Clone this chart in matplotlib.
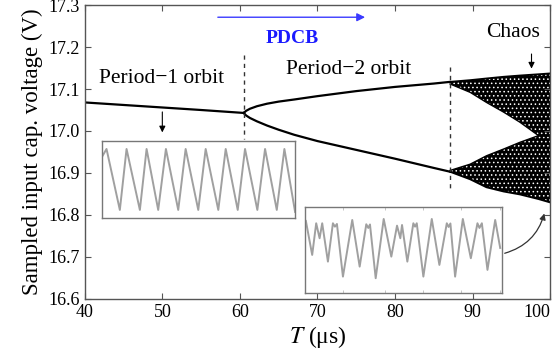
import matplotlib
matplotlib.use("Agg")
from matplotlib import pyplot as plt
import numpy as np

plt.rcParams['font.family'] = ['Liberation Serif', 'DejaVu Serif']
plt.rcParams['mathtext.fontset'] = 'stix'
plt.rcParams['hatch.linewidth'] = 0.6

# period-1 branch
t_p1 = [40, 45, 50, 55, 60.5]
v_p1 = [17.068, 17.062, 17.056, 17.050, 17.043]

# period-2 branches
t_p2 = [60.5, 60.8, 61.3, 62.2, 63.5, 65, 67, 70, 75, 80, 85, 87.1]
v_p2_up = [17.043, 17.048, 17.053, 17.059, 17.065, 17.070, 17.075, 17.083, 17.095,
           17.105, 17.113, 17.117]
v_p2_lo = [17.043, 17.037, 17.031, 17.023, 17.013, 17.003, 16.991, 16.976, 16.955,
           16.934, 16.912, 16.903]

# chaotic bands (envelopes)
t_ch = [87.1, 89.7, 91.8, 94.0, 96.1, 98.5, 100]
up_top = [17.117, 17.121, 17.125, 17.129, 17.132, 17.135, 17.137]
up_bot = [17.112, 17.092, 17.068, 17.045, 17.021, 16.989, 16.989]
lo_top = [16.906, 16.921, 16.941, 16.957, 16.973, 16.989, 16.989]
lo_bot = [16.903, 16.885, 16.866, 16.856, 16.849, 16.838, 16.830]

# inset 1: period-1 waveform (peak / trough vertices)
w1_x = [0.6, 5, 18.3, 25, 38.3, 45, 56.6, 64.3, 76.6, 84, 96.6, 104, 116.6, 124,
        136, 143.3, 155.6, 163.3, 175, 182.6, 193.3]
w1_y = [61.6, 69.3, 8.3, 69.3, 8.3, 69.3, 8.3, 69.3, 8.3, 69.3, 8.3, 69.3, 8.3, 69.3,
        8.3, 69.3, 8.3, 69.3, 8.3, 69.3, 6.3]

# inset 2: chaotic waveform vertices
w2_x = [1, 7.3, 11.3, 14.7, 17.3, 23, 28, 30, 32, 38, 47.3, 54.7, 61.3, 63.3, 65,
        70.7, 78.7, 86.3, 92, 95.3, 97, 102.3, 108.3, 110, 111.7, 118.3, 126.7,
        134.3, 141.7, 143.5, 145.3, 150, 157.7, 165.7, 172.3, 174.3, 176.7, 182.3,
        190, 195]
w2_y = [72, 38, 69.7, 54.7, 69.7, 31.3, 69.7, 66.3, 69, 16.3, 73, 26.3, 68.7, 65,
        68.5, 14.7, 74, 36.3, 67.3, 54.7, 68, 31.3, 69.7, 66.3, 69.7, 16.3, 74,
        28, 69.7, 66, 69.5, 16.3, 74, 34.7, 69.7, 65, 69.7, 23, 73, 45]

fig = plt.figure(figsize=(5.54, 3.61), dpi=100)
ax = fig.add_axes([0.153, 0.172, 0.840, 0.814])

ax.plot(t_p1, v_p1, color='black', lw=1.6)
ax.plot(t_p2, v_p2_up, color='black', lw=1.6)
ax.plot(t_p2, v_p2_lo, color='black', lw=1.6)

ax.fill_between(t_ch, up_bot, up_top, facecolor='black', edgecolor='white',
                hatch='....', linewidth=0)
ax.fill_between(t_ch, lo_bot, lo_top, facecolor='black', edgecolor='white',
                hatch='....', linewidth=0)
ax.plot(t_ch, up_top, color='black', lw=1.4)
ax.plot(t_ch, up_bot, color='black', lw=1.0)
ax.plot(t_ch, lo_top, color='black', lw=1.0)
ax.plot(t_ch, lo_bot, color='black', lw=1.4)

# bifurcation markers
ax.plot([60.5, 60.5], [17.18, 16.98], color='#333333', lw=1, ls=(0, (3, 3)))
ax.plot([87.1, 87.1], [17.152, 16.855], color='#333333', lw=1, ls=(0, (3, 3)))

ax.set_xlim(40, 100)
ax.set_ylim(16.6, 17.3)
ax.set_xticks([40, 50, 60, 70, 80, 90, 100])
ax.set_yticks([16.6, 16.7, 16.8, 16.9, 17.0, 17.1, 17.2, 17.3])
ax.set_yticklabels(['16.6', '16.7', '16.8', '16.9', '17.0', '17.1', '17.2', '17.3'])
ax.tick_params(direction='in', top=True, right=True, length=4, width=0.8,
               labelsize=13, colors='#555555', labelcolor='black')
ax.get_xticklabels()[-1].set_horizontalalignment('right')
for s in ax.spines.values():
    s.set_color('#555555')
    s.set_linewidth(1.0)

ax.set_xlabel('$T$ (μs)', fontsize=17, labelpad=2)
ax.set_ylabel('Sampled input cap. voltage (V)', fontsize=16.5, labelpad=4)

# annotations
ax.text(49.9, 17.124, 'Period\u22121 orbit', fontsize=15.5, ha='center', va='center')
ax.text(74.0, 17.146, 'Period\u22122 orbit', fontsize=15.5, ha='center', va='center')
ax.text(95.2, 17.235, 'Chaos', fontsize=15.5, ha='center', va='center')
ax.text(66.7, 17.22, 'PDCB', fontsize=14, fontweight='bold', color='#1a1aff',
        ha='center', va='center')
ax.annotate('', xy=(76.5, 17.271), xytext=(56.8, 17.271),
            arrowprops=dict(arrowstyle='-|>', color='#3a3aff', lw=1.0,
                            mutation_scale=12))
ax.annotate('', xy=(50, 16.99), xytext=(50, 17.052),
            arrowprops=dict(arrowstyle='-|>', color='black', lw=0.8,
                            mutation_scale=9))
ax.annotate('', xy=(97.6, 17.142), xytext=(97.6, 17.19),
            arrowprops=dict(arrowstyle='-|>', color='black', lw=0.8,
                            mutation_scale=9))
ax.annotate('', xy=(99.35, 16.81), xytext=(93.8, 16.707),
            arrowprops=dict(arrowstyle='-|>', color='#333333', lw=0.9,
                            mutation_scale=9, connectionstyle='arc3,rad=0.3'))

# inset waveforms
in1 = ax.inset_axes([0.036, 0.2745, 0.416, 0.263])
in1.plot(w1_x, w1_y, color='#a0a0a0', lw=1.4)
in1.set_xlim(0, 193.3)
in1.set_ylim(0, 77.3)
in1.set_xticks([])
in1.set_yticks([])
for s in in1.spines.values():
    s.set_color('#777777')
    s.set_linewidth(1.0)

in2 = ax.inset_axes([0.473, 0.0204, 0.424, 0.2935])
in2.plot(w2_x, w2_y, color='#a0a0a0', lw=1.4)
in2.set_xlim(0, 197)
in2.set_ylim(0, 86.3)
in2.set_xticks([38, 80, 118, 156, 195])
in2.set_yticks([])
in2.tick_params(direction='in', top=True, length=2, width=0.6, colors='#bbbbbb',
                labelbottom=False)
for s in in2.spines.values():
    s.set_color('#777777')
    s.set_linewidth(1.0)

plt.savefig('out.png', dpi=100)
